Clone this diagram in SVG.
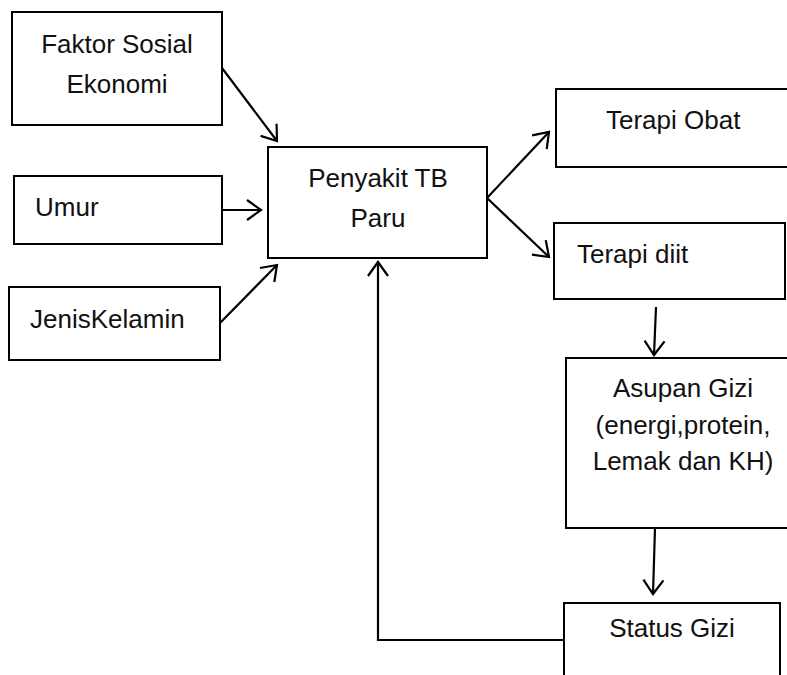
<svg xmlns="http://www.w3.org/2000/svg" width="787" height="675" viewBox="0 0 787 675">
<style>
.box{fill:#fff;stroke:#000;stroke-width:2}
.t{font-family:"Liberation Sans",Arial,sans-serif;font-size:26px;fill:#111}
.m{text-anchor:middle}
.c{fill:none;stroke:#000;stroke-width:2.2}
</style>
<defs>
<marker id="ah" markerUnits="userSpaceOnUse" markerWidth="20" markerHeight="24" refX="15" refY="11" orient="auto" viewBox="0 0 20 22">
<path d="M1,1 L15,11 L1,21" fill="none" stroke="#000" stroke-width="2.2"/>
</marker>
</defs>
<rect width="787" height="675" fill="#fff"/>
<g id="faktor"><rect class="box" x="12" y="12" width="210" height="113"/><text class="t m" x="117" y="53">Faktor Sosial</text><text class="t m" x="117" y="93">Ekonomi</text></g>
<g id="umur"><rect class="box" x="14" y="176" width="208" height="68"/><text class="t" x="35" y="216">Umur</text></g>
<g id="jenis"><rect class="box" x="9" y="287" width="211" height="73"/><text class="t" x="30" y="328">JenisKelamin</text></g>
<g id="tb"><rect class="box" x="268" y="147" width="219" height="111"/><text class="t m" x="378" y="187">Penyakit TB</text><text class="t m" x="378" y="227">Paru</text></g>
<g id="obat"><rect class="box" x="556" y="89" width="240" height="78"/><text class="t" x="606" y="129">Terapi Obat</text></g>
<g id="diit"><rect class="box" x="554" y="223" width="231" height="76"/><text class="t" x="577" y="263">Terapi diit</text></g>
<g id="asupan"><rect class="box" x="566" y="358" width="230" height="170"/><text class="t m" x="683" y="397">Asupan Gizi</text><text class="t m" x="683" y="434">(energi,protein,</text><text class="t m" x="683" y="470">Lemak dan KH)</text></g>
<g id="status"><rect class="box" x="564" y="603" width="216" height="90"/><text class="t m" x="672" y="637">Status Gizi</text></g>
<g id="connectors">
<line class="c" x1="222" y1="68" x2="277" y2="141" marker-end="url(#ah)"/>
<line class="c" x1="222" y1="210" x2="261" y2="210" marker-end="url(#ah)"/>
<line class="c" x1="220" y1="323" x2="277" y2="265" marker-end="url(#ah)"/>
<line class="c" x1="487" y1="198" x2="549" y2="132" marker-end="url(#ah)"/>
<line class="c" x1="487" y1="198" x2="549" y2="257" marker-end="url(#ah)"/>
<line class="c" x1="656" y1="307" x2="654" y2="355" marker-end="url(#ah)"/>
<line class="c" x1="655" y1="528" x2="653" y2="594" marker-end="url(#ah)"/>
<polyline class="c" points="564,640 378,640 378,262" marker-end="url(#ah)"/>
</g>
</svg>
